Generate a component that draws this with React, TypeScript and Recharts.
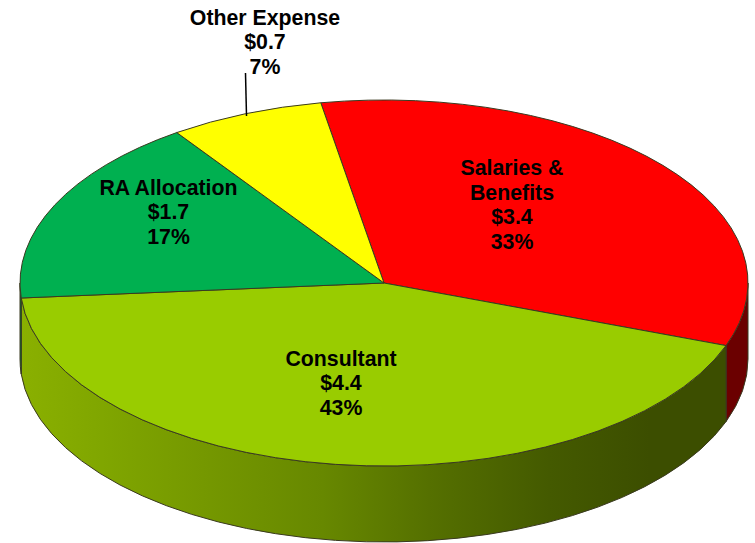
import React from 'react';
import { PieChart, Pie, Cell } from 'recharts';

const categories = ['Salaries & Benefits', 'Consultant', 'RA Allocation', 'Other Expense'];
const amounts = [3.4, 4.4, 1.7, 0.7];
const percents = ['33%', '43%', '17%', '7%'];

const labelLines = [
  ['Salaries &', 'Benefits', '$3.4', '33%'],
  ['Consultant', '$4.4', '43%'],
  ['RA Allocation', '$1.7', '17%'],
  ['Other Expense', '$0.7', '7%'],
];

const topColors = ['#ff0000', '#99cc00', '#00b050', '#ffff00'];
const wallColors = ['#6b0000', 'url(#consultantWall)', '#007a38', '#808000'];
const labelCenters = [
  { x: 512, y: 169 },
  { x: 341, y: 359.5 },
  { x: 168.5, y: 188.5 },
  { x: 265, y: 18.5 },
];

const data = categories.map((name, i) => ({ name, value: amounts[i], percent: percents[i] }));

const WIDTH = 755;
const HEIGHT = 543;
const CX = 384;
const CY = 283;
const RX = 364;
const RY = 183;
const DEPTH = 76;
const START = 100;
const EDGE = '#3a3a20';

const pt = (deg: number, dy = 0) => {
  const r = (deg * Math.PI) / 180;
  return `${(CX + RX * Math.cos(r)).toFixed(2)} ${(CY - RY * Math.sin(r) + dy).toFixed(2)}`;
};

// flat pie slice squashed into the ellipse
const TopSlice = (props: any) => {
  const { startAngle, endAngle, fill } = props;
  const large = Math.abs(startAngle - endAngle) > 180 ? 1 : 0;
  const d = `M ${CX} ${CY} L ${pt(startAngle)} A ${RX} ${RY} 0 ${large} 1 ${pt(endAngle)} Z`;
  return <path d={d} fill={fill} stroke={EDGE} strokeWidth={1} strokeLinejoin="round" />;
};

// side wall, only the front half of the rim (-180..0) can be seen
const WallSlice = (props: any) => {
  const { startAngle, endAngle, fill } = props;
  const a = Math.min(startAngle, 0);
  const b = Math.max(endAngle, -180);
  if (a <= b) return <g />;
  const d =
    `M ${pt(a)} A ${RX} ${RY} 0 0 1 ${pt(b)} ` +
    `L ${pt(b, DEPTH)} A ${RX} ${RY} 0 0 0 ${pt(a, DEPTH)} Z`;
  return <path d={d} fill={fill} stroke={EDGE} strokeWidth={1} strokeLinejoin="round" />;
};

const SliceLabel = ({ index }: any) => {
  const c = labelCenters[index];
  return (
    <g>
      {index === 3 && <line x1={245.5} y1={73} x2={246.5} y2={116} stroke="#000" strokeWidth={1.5} />}
      <text
        x={c.x}
        y={c.y}
        textAnchor="middle"
        dominantBaseline="middle"
        fontFamily="'Liberation Sans', Arial, sans-serif"
        fontWeight="bold"
        fontSize={21.3}
        fill="#000"
      >
        {labelLines[index].map((line, i) => (
          <tspan key={i} x={c.x} dy={i === 0 ? 0 : 24.5}>
            {line}
          </tspan>
        ))}
      </text>
    </g>
  );
};

export default function App() {
  return (
    <div style={{ position: 'absolute', left: 0, top: 0, width: WIDTH, height: HEIGHT, background: '#fff' }}>
      <PieChart width={WIDTH} height={HEIGHT} margin={{ top: 0, right: 0, bottom: 0, left: 0 }}>
        <defs>
          <linearGradient id="consultantWall" gradientUnits="userSpaceOnUse" x1={20} y1={0} x2={650} y2={0}>
            <stop offset="0%" stopColor="#8ab000" />
            <stop offset="13%" stopColor="#80a600" />
            <stop offset="29%" stopColor="#759800" />
            <stop offset="48%" stopColor="#678800" />
            <stop offset="65%" stopColor="#557000" />
            <stop offset="84%" stopColor="#445a00" />
            <stop offset="100%" stopColor="#3c4e00" />
          </linearGradient>
        </defs>
        <Pie
          data={data}
          dataKey="value"
          nameKey="name"
          cx={CX}
          cy={CY}
          outerRadius={RX}
          startAngle={START}
          endAngle={START - 360}
          shape={WallSlice}
          isAnimationActive={false}
          label={false}
          labelLine={false}
        >
          {data.map((d, i) => (
            <Cell key={d.name} fill={wallColors[i]} />
          ))}
        </Pie>
        <Pie
          data={data}
          dataKey="value"
          nameKey="name"
          cx={CX}
          cy={CY}
          outerRadius={RX}
          startAngle={START}
          endAngle={START - 360}
          shape={TopSlice}
          isAnimationActive={false}
          label={SliceLabel}
          labelLine={false}
        >
          {data.map((d, i) => (
            <Cell key={d.name} fill={topColors[i]} />
          ))}
        </Pie>
      </PieChart>
    </div>
  );
}
